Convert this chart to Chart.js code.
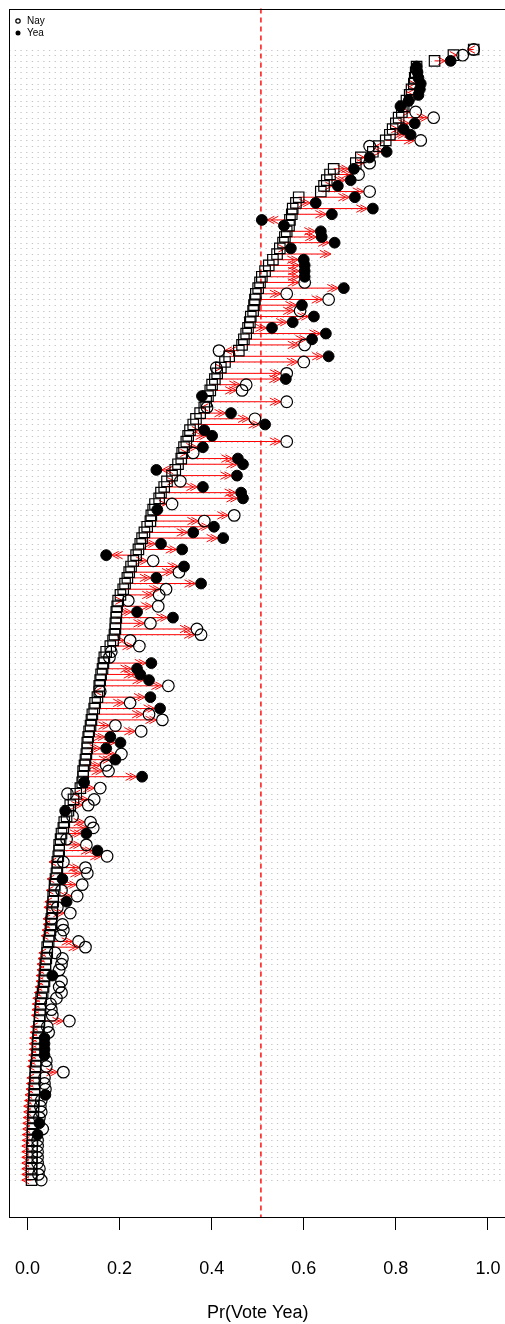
<!DOCTYPE html>
<html>
<head>
<meta charset="utf-8">
<script src="https://cdn.jsdelivr.net/npm/chart.js@4/dist/chart.umd.min.js"></script>
<style>
  html, body { margin: 0; padding: 0; background: #fff; overflow: hidden; }
  #wrap { position: relative; width: 515px; height: 1324px; }
</style>
</head>
<body>
<div id="wrap"><canvas id="c" width="515" height="1324"></canvas></div>
<script>
// Rows listed from the top of the plot to the bottom.
// baseline: predicted probability (square); observed: arrow target / vote marker (circle)
const baseline = [
  .969,.925,.884,.845,.843,.841,.839,.834,.830,.823,
  .817,.813,.806,.800,.793,.787,.778,.763,.750,.724,
  .713,.665,.657,.650,.644,.637,.589,.583,.576,.574,
  .570,.568,.563,.559,.555,.548,.542,.533,.524,.516,
  .509,.505,.501,.496,.494,.492,.490,.485,.483,.479,
  .475,.470,.466,.459,.438,.429,.420,.412,.407,.401,
  .397,.392,.388,.384,.375,.366,.360,.353,.349,.345,
  .340,.336,.334,.327,.321,.314,.303,.297,.290,.286,
  .277,.273,.269,.267,.260,.254,.249,.245,.241,.236,
  .230,.225,.221,.217,.212,.208,.202,.197,.195,.193,
  .193,.191,.191,.189,.186,.180,.171,.167,.165,.163,
  .160,.158,.156,.156,.152,.147,.145,.141,.139,.137,
  .134,.132,.130,.130,.128,.126,.124,.121,.121,.119,
  .115,.106,.100,.093,.089,.085,.080,.078,.074,.072,
  .069,.069,.067,.065,.065,.063,.061,.059,.059,.056,
  .056,.054,.054,.052,.052,.050,.048,.046,.043,.043,
  .041,.039,.039,.037,.037,.035,.033,.030,.029,.028,
  .027,.026,.025,.024,.023,.022,.022,.021,.020,.018,
  .017,.017,.016,.015,.015,.014,.013,.013,.012,.012,
  .011,.011,.011,.010,.010,.010,.009,.009,.009,.009
];
const observed = [
  .969,.945,.919,.845,.847,.849,.854,.852,.849,.828,
  .810,.843,.882,.841,.817,.832,.854,.743,.780,.743,
  .743,.709,.719,.702,.674,.743,.711,.626,.750,.661,
  .509,.557,.637,.639,.667,.572,.659,.600,.602,.602,
  .602,.602,.687,.563,.654,.596,.592,.622,.576,.531,
  .648,.618,.602,.416,.654,.600,.410,.563,.561,.475,
  .466,.379,.563,.390,.442,.494,.516,.384,.401,.563,
  .381,.360,.457,.468,.280,.455,.332,.381,.464,.468,
  .314,.282,.449,.384,.405,.360,.425,.290,.336,.171,
  .273,.340,.329,.280,.377,.301,.286,.219,.284,.238,
  .316,.267,.368,.377,.223,.243,.182,.178,.269,.238,
  .245,.264,.306,.158,.267,.223,.288,.264,.293,.191,
  .247,.180,.202,.171,.204,.191,.171,.176,.249,.123,
  .158,.087,.145,.132,.082,.098,.137,.143,.128,.085,
  .128,.152,.173,.078,.126,.130,.076,.119,.074,.108,
  .085,.065,.093,.052,.076,.078,.072,.111,.126,.060,
  .076,.074,.069,.054,.074,.069,.074,.063,.050,.052,
  .054,.091,.043,.046,.037,.037,.037,.037,.041,.041,
  .078,.037,.037,.039,.039,.030,.028,.030,.026,.026,
  .033,.022,.022,.022,.022,.022,.022,.026,.024,.030
];
// 1 = Yea (filled), 0 = Nay (open), null = no marker
const voteYea = [
  0,0,1,1,1,1,1,1,1,1,
  1,0,0,1,1,1,0,0,1,1,
  0,1,0,1,1,0,1,1,1,1,
  1,1,1,1,1,1,null,1,1,1,
  1,0,1,0,0,1,0,1,1,1,
  1,1,0,0,1,0,0,0,1,0,
  0,1,0,0,1,0,1,1,1,0,
  1,0,1,1,1,1,0,1,1,1,
  0,1,0,0,1,1,1,1,1,1,
  0,1,0,1,1,0,0,0,0,1,
  1,0,0,0,0,0,0,0,1,1,
  1,1,0,0,1,0,1,0,0,0,
  0,1,1,1,0,1,0,0,1,1,
  0,0,0,0,1,0,0,0,1,0,
  0,1,0,0,0,0,1,0,0,0,
  1,0,0,0,0,0,0,0,0,0,
  0,0,0,1,0,0,0,0,0,0,
  0,0,0,0,1,1,1,1,0,0,
  0,0,0,0,1,0,0,0,0,1,
  0,1,0,0,0,0,0,0,0,0
];
// Arrow tips that differ from the marker (lowest rows); null = arrow runs to the marker
const arrowEnd = new Array(140).fill(null).concat([
  null,null,null,.047,null,null,.043,null,.041,null,
  .038,.036,null,.034,.034,.032,.030,null,null,.025,
  .023,.021,.021,.019,.019,.017,.015,.012,.011,.010,
  .009,null,.007,.006,.005,.004,.004,.003,.002,.000,
  null,-.001,-.002,-.003,-.005,-.006,-.008,-.008,-.009,-.010,
  -.010,-.011,-.011,-.012,-.012,-.012,-.012,-.012,-.012,-.012
]);
const xTicks = [0, 0.2, 0.4, 0.6, 0.8, 1.0];
const cutoff = 0.507;
const legendLabels = ['Nay', 'Yea'];
const axisTitle = 'Pr(Vote Yea)';

const N = baseline.length;
const FONT = '"Liberation Sans", Arial, Helvetica, sans-serif';
const OPEN_R = 5.8, FILLED_R = 5.4;

const rowY = i => N - i;
const squares = baseline.map((v, i) => ({ x: v, y: rowY(i) }));
const nays = [], yeas = [];
observed.forEach((v, i) => {
  if (voteYea[i] === 1) yeas.push({ x: v, y: rowY(i) });
  else if (voteYea[i] === 0) nays.push({ x: v, y: rowY(i) });
});

// open "V" head at x1, pointing away from x0
function arrowHead(ctx, x0, x1, y) {
  const dir = x1 >= x0 ? 1 : -1;
  const L = 8, a = Math.PI / 6.5;
  ctx.beginPath();
  ctx.moveTo(x1 - dir * L * Math.cos(a), y - L * Math.sin(a));
  ctx.lineTo(x1, y);
  ctx.lineTo(x1 - dir * L * Math.cos(a), y + L * Math.sin(a));
  ctx.stroke();
}

const decorations = {
  id: 'decorations',
  beforeDatasetsDraw(chart) {
    const { ctx, chartArea: a, scales: { x, y } } = chart;
    ctx.save();
    // dotted row guides
    ctx.strokeStyle = '#c4c4c4';
    ctx.lineWidth = 1;
    ctx.setLineDash([1.3, 4.4]);
    for (let i = 0; i < N; i++) {
      const py = Math.round(y.getPixelForValue(rowY(i))) + 0.5;
      ctx.beginPath(); ctx.moveTo(a.left, py); ctx.lineTo(a.right, py); ctx.stroke();
    }
    // decision threshold
    ctx.strokeStyle = '#ff0000';
    ctx.lineWidth = 1.4;
    ctx.setLineDash([5, 4]);
    const cx = x.getPixelForValue(cutoff);
    ctx.beginPath(); ctx.moveTo(cx, a.top); ctx.lineTo(cx, a.bottom); ctx.stroke();
    // change arrows (drawn with a doubled head)
    ctx.setLineDash([]);
    ctx.lineWidth = 1;
    ctx.strokeStyle = '#ff0000';
    for (let i = 0; i < N; i++) {
      const py = y.getPixelForValue(rowY(i));
      const x0 = x.getPixelForValue(baseline[i]);
      let x1;
      if (arrowEnd[i] !== null) {
        x1 = x.getPixelForValue(arrowEnd[i]);
      } else {
        const xm = x.getPixelForValue(observed[i]);
        const r = voteYea[i] === null ? 0 : (voteYea[i] ? FILLED_R : OPEN_R);
        x1 = xm >= x0 ? xm - r : xm + r;
      }
      if (Math.abs(x1 - x0) < 1) continue;
      ctx.beginPath(); ctx.moveTo(x0, py); ctx.lineTo(x1, py); ctx.stroke();
      arrowHead(ctx, x0, x1, py);
      if (Math.abs(x1 - x0) > 12) {
        const back = x1 >= x0 ? -4 : 4;
        arrowHead(ctx, x0, x1 + back, py);
      }
    }
    ctx.restore();
  },
  afterDraw(chart) {
    const { ctx, chartArea: a } = chart;
    ctx.save();
    // plot frame
    ctx.strokeStyle = '#000';
    ctx.lineWidth = 1;
    ctx.strokeRect(Math.round(a.left) + 0.5, Math.round(a.top) + 0.5,
                   Math.round(a.right - a.left), Math.round(a.bottom - a.top));
    // key
    ctx.font = '10px ' + FONT;
    ctx.fillStyle = '#000';
    ctx.textBaseline = 'middle';
    ctx.lineWidth = 1.2;
    ctx.beginPath(); ctx.arc(18, 21, 2.2, 0, Math.PI * 2); ctx.stroke();
    ctx.fillText(legendLabels[0], 27, 21.5);
    ctx.beginPath(); ctx.arc(18, 33, 2.5, 0, Math.PI * 2); ctx.fill();
    ctx.fillText(legendLabels[1], 27, 33.5);
    ctx.restore();
  }
};

new Chart(document.getElementById('c'), {
  type: 'scatter',
  data: {
    datasets: [
      { label: 'baseline', data: squares, pointStyle: 'rect', pointRadius: 7.4,
        borderColor: '#000', backgroundColor: 'rgba(0,0,0,0)', borderWidth: 1.2, order: 3 },
      { label: legendLabels[0], data: nays, pointStyle: 'circle', pointRadius: OPEN_R,
        borderColor: '#000', backgroundColor: 'rgba(0,0,0,0)', borderWidth: 1.2, order: 2 },
      { label: legendLabels[1], data: yeas, pointStyle: 'circle', pointRadius: FILLED_R,
        borderColor: '#000', backgroundColor: '#000', borderWidth: 1, order: 1 }
    ]
  },
  options: {
    responsive: false,
    maintainAspectRatio: false,
    devicePixelRatio: 1,
    animation: false,
    events: [],
    layout: { padding: { left: 9, top: 6, right: 6, bottom: 0 } },
    plugins: { legend: { display: false }, tooltip: { enabled: false } },
    scales: {
      x: {
        type: 'linear', min: -0.04, max: 1.04,
        afterBuildTicks: s => { s.ticks = xTicks.map(v => ({ value: v })); },
        afterFit: s => { s.height = 107; },
        grid: { drawOnChartArea: false, drawTicks: true, tickLength: 13, color: '#000', lineWidth: 1 },
        border: { display: false },
        ticks: { color: '#000', font: { family: FONT, size: 18, lineHeight: 4 }, padding: 3,
                 maxRotation: 0, autoSkip: false, callback: v => Number(v).toFixed(1) },
        title: { display: true, text: axisTitle, color: '#000',
                 font: { family: FONT, size: 18 }, padding: { top: 0, bottom: 0 } }
      },
      y: { type: 'linear', display: false, min: -5.5, max: 207.2 }
    }
  },
  plugins: [decorations]
});
</script>
</body>
</html>
